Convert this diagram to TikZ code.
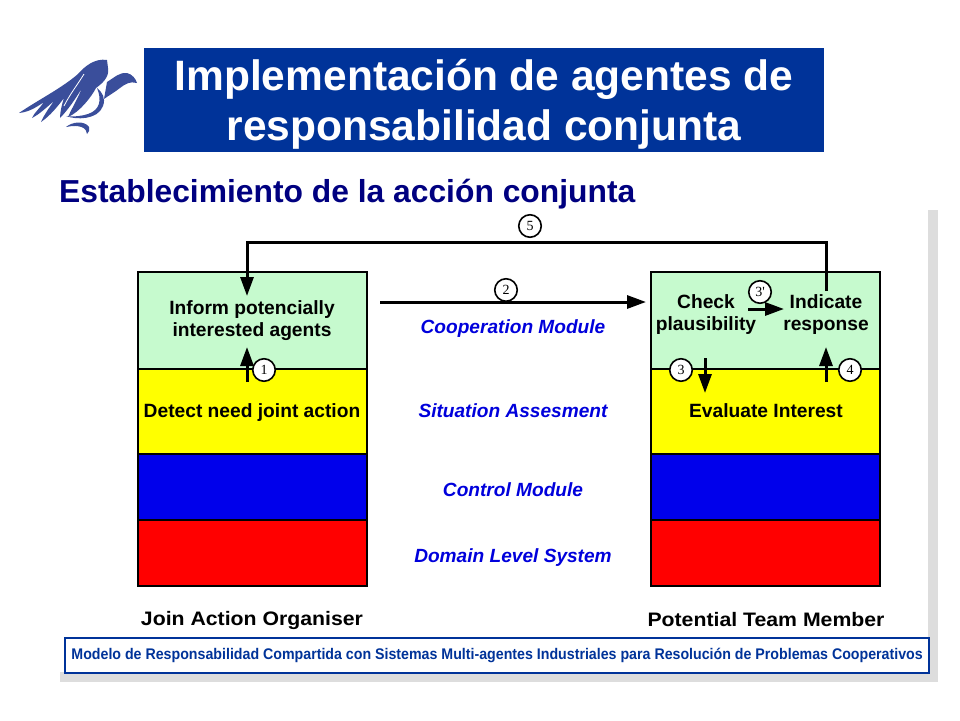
\documentclass[tikz,border=0pt]{standalone}
\usepackage{fontspec}
\setmainfont{Liberation Sans}
\newfontfamily\numfont{Liberation Serif}
\usetikzlibrary{arrows.meta}
\definecolor{titleblue}{RGB}{0,51,153}
\definecolor{headblue}{RGB}{0,0,128}
\definecolor{birdblue}{RGB}{58,78,155}
\definecolor{paleshade}{RGB}{221,221,221}
\definecolor{palegreen}{RGB}{198,250,206}
\definecolor{modblue}{RGB}{0,0,220}
\definecolor{lyrblue}{RGB}{0,0,235}
\definecolor{lyryellow}{RGB}{255,255,0}
\definecolor{lyrred}{RGB}{255,0,0}
\tikzset{
  layer/.style = {draw=black, line width=1.7pt, minimum width=229pt, inner sep=0pt, outer sep=0pt, anchor=north west},
  boxtext/.style = {font=\fontsize{19.2}{22}\selectfont\bfseries, align=center, inner sep=0pt},
  modtext/.style = {font=\fontsize{19.1}{20}\selectfont\bfseries\itshape, text=modblue, inner sep=0pt},
  nametext/.style = {font=\fontsize{19.5}{20}\selectfont\bfseries\addfontfeature{FakeStretch=1.09}, inner sep=0pt},
  numdot/.style = {circle, draw=black, fill=white, line width=1.6pt, minimum size=22.5pt, inner sep=0pt, font=\fontsize{14}{14}\selectfont\numfont},
  link/.style = {line width=3pt, -{Triangle[length=19pt,width=13pt]}}
}
\begin{document}
\begin{tikzpicture}[x=1pt,y=-1pt]
\useasboundingbox (0,0) rectangle (960,720);
% shaded panel
\fill[paleshade] (60,210) rectangle (938,682);
\fill[white] (50,200) rectangle (928,672);
% logo
\begin{scope}[birdblue]
\fill (107,60) .. controls (95,58) and (85,66) .. (78,74) .. controls (62,88) and (38,100) .. (19,113)
  .. controls (30,112) and (38,106) .. (44,102) .. controls (40,108) and (34,113) .. (32,118)
  .. controls (40,114) and (48,106) .. (54,101) .. controls (49,108) and (44,115) .. (41,122)
  .. controls (50,116) and (58,106) .. (64,98) .. controls (62,104) and (60,112) .. (60,118)
  .. controls (68,110) and (76,98) .. (82,88) .. controls (78,98) and (72,108) .. (68,117)
  .. controls (80,112) and (92,96) .. (96,88) .. controls (100,85) and (110,78) .. (108,68) -- cycle;
\draw[white, line width=0.8pt] (84,74) .. controls (78,84) and (70,94) .. (64,106);
\fill (107,82) .. controls (115,77) and (120,72) .. (127,73) .. controls (132,74) and (136,79) .. (137,83)
  .. controls (130,81) and (125,84) .. (120,88) .. controls (115,92) and (108,96) .. (104,99) -- cycle;
\fill (97,88) .. controls (102,100) and (100,110) .. (88,114) .. controls (82,116) and (74,117) .. (66,116)
  .. controls (76,120) and (98,120) .. (103,106) .. controls (106,98) and (102,92) .. (97,88) -- cycle;
\fill (66,127) .. controls (72,122) and (84,120) .. (89,127) .. controls (90,130) and (89,132) .. (87,134)
  .. controls (87,128) and (80,124) .. (66,127) -- cycle;
\end{scope}
% title
\node[fill=titleblue, minimum width=680pt, minimum height=104pt, inner sep=0pt, anchor=north west] (titlebox) at (144,48) {};
\node[font=\fontsize{42.5}{50}\selectfont\bfseries, text=white, align=center, inner sep=0pt] (titletext) at (484,104)
  {Implementación de agentes de\\responsabilidad conjunta};
\node[font=\fontsize{31.8}{34}\selectfont\bfseries, text=headblue, anchor=west, inner sep=0pt] (subhead) at (59,194) {Establecimiento de la acción conjunta};
% left stack
\node[layer, fill=palegreen, minimum height=97pt] (lgreen) at (138,272) {};
\node[layer, fill=lyryellow, minimum height=85pt] (lyellow) at (138,369) {};
\node[layer, fill=lyrblue, minimum height=66pt] (lblue) at (138,454) {};
\node[layer, fill=lyrred, minimum height=66pt] (lred) at (138,520) {};
% right stack
\node[layer, fill=palegreen, minimum height=97pt] (rgreen) at (651,272) {};
\node[layer, fill=lyryellow, minimum height=85pt] (ryellow) at (651,369) {};
\node[layer, fill=lyrblue, minimum height=66pt] (rblue) at (651,454) {};
\node[layer, fill=lyrred, minimum height=66pt] (rred) at (651,520) {};
% box texts
\node[boxtext] (inform) at (252,321) {Inform potencially\\interested agents};
\node[boxtext] (detect) at (252,413) {Detect need joint action};
\node[boxtext] (check) at (706,315) {Check\\plausibility};
\node[boxtext] (indicate) at (826,315) {Indicate\\response};
\node[boxtext] (evaluate) at (766,411) {Evaluate Interest};
% modules
\node[modtext] (cooperation) at (513,329) {Cooperation Module};
\node[modtext] (situation) at (513,411) {Situation Assesment};
\node[modtext] (control) at (513,490) {Control Module};
\node[modtext] (domain) at (513,558) {Domain Level System};
% names
\node[nametext] (joinname) at (252,620) {Join Action Organiser};
\node[nametext] (teamname) at (766,620) {Potential Team Member};
% footer
\node[draw=titleblue, line width=2.2pt, fill=white, minimum width=864pt, minimum height=35pt, inner sep=0pt, anchor=north west, font=\fontsize{15.4}{16}\selectfont\bfseries\addfontfeature{FakeStretch=0.922}, text=titleblue] (footer) at (64,637) {Modelo de Responsabilidad Compartida con Sistemas Multi-agentes Industriales para Resolución de Problemas Cooperativos};
% connector ends
\coordinate (a1) at (247,382);
\coordinate (b1) at (247,347);
\coordinate (a2) at (380,302);
\coordinate (b2) at (646,302);
\coordinate (a3) at (705,358);
\coordinate (b3) at (705,393);
\coordinate (a3p) at (748,309);
\coordinate (b3p) at (784,309);
\coordinate (a4) at (826,382);
\coordinate (b4) at (826,347);
\coordinate (a5) at (826,291);
\coordinate (b5) at (247,296);
\coordinate (t5) at (826,242);
\draw[link] (a1) -- (b1);
\draw[link] (a2) -- (b2);
\draw[link] (a3) -- (b3);
\draw[link] (a3p) -- (b3p);
\draw[link] (a4) -- (b4);
\draw[link] (a5) -- (t5) -| (b5);
% numbers
\node[numdot] (n1) at (264,370) {1};
\node[numdot] (n2) at (506,290) {2};
\node[numdot] (n3) at (681,370) {3};
\node[numdot] (n3p) at (760,292) {3'};
\node[numdot] (n4) at (850,370) {4};
\node[numdot] (n5) at (530,226) {5};
\end{tikzpicture}
\end{document}
